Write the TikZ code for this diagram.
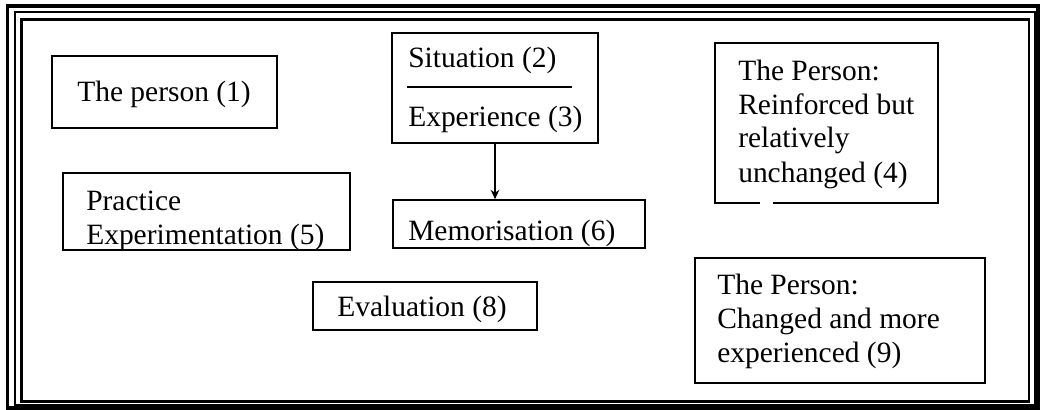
\documentclass[tikz,border=0pt]{standalone}
\usepackage{fontspec}
\setmainfont{Liberation Serif}
\usetikzlibrary{arrows.meta,fit}
\begin{document}
\begin{tikzpicture}[x=0.75pt,y=-0.75pt,
  box/.style={draw=black, line width=1.3pt, inner sep=0pt, fit={#1}},
  txt/.style={font=\fontsize{22.1pt}{25.5pt}\selectfont, inner sep=0pt, anchor=base west},
  flow/.style={draw=black, line width=0.8pt, -{Stealth[length=7pt,width=6.5pt]}}
]
\useasboundingbox (0,0) rectangle (1042,410);

% triple border
\draw[line width=2.6pt] (7.5,6) rectangle (1038,408);
\draw[line width=1.5pt] (14.5,12.5) rectangle (1034.5,405);
\draw[line width=2pt] (21.5,19.5) rectangle (1029,401.5);

% boxes
\node[box={(52,56) (277,128)}] (b1) {};
\node[box={(392,33) (598,143)}] (b2) {};
\node[box={(715,43) (938,203)}] (b4) {};
\node[box={(63,173) (350,250)}] (b5) {};
\node[box={(393,200) (645,248)}] (b6) {};
\node[box={(313,282) (537,330)}] (b8) {};
\node[box={(695,258) (985,383)}] (b9) {};

% break in the lower edge of box 4
\fill[white] (760,200) rectangle (773,206);

% divider inside box 2
\coordinate (d1) at (407,87);
\coordinate (d2) at (572,87);
\draw[line width=1.3pt] (d1) -- (d2);

% texts
\node[txt] (t1) at (77,102) {The person (1)};
\node[txt] (t2) at (408,68) {Situation (2)};
\node[txt] (t3) at (408,127) {Experience (3)};
\node[txt] (t4) at (738,80) {\begin{tabular}[t]{@{}l@{}}The Person:\\Reinforced but\\relatively\\unchanged (4)\end{tabular}};
\node[txt] (t5) at (86,210) {\begin{tabular}[t]{@{}l@{}}Practice\\Experimentation (5)\end{tabular}};
\node[txt] (t6) at (408,240) {Memorisation (6)};
\node[txt] (t8) at (337,316) {Evaluation (8)};
\node[txt] (t9) at (717,294) {\begin{tabular}[t]{@{}l@{}}The Person:\\Changed and more\\experienced (9)\end{tabular}};

% connector
\draw[flow] (b2.south) -- (b2.south |- b6.north);
\end{tikzpicture}
\end{document}
